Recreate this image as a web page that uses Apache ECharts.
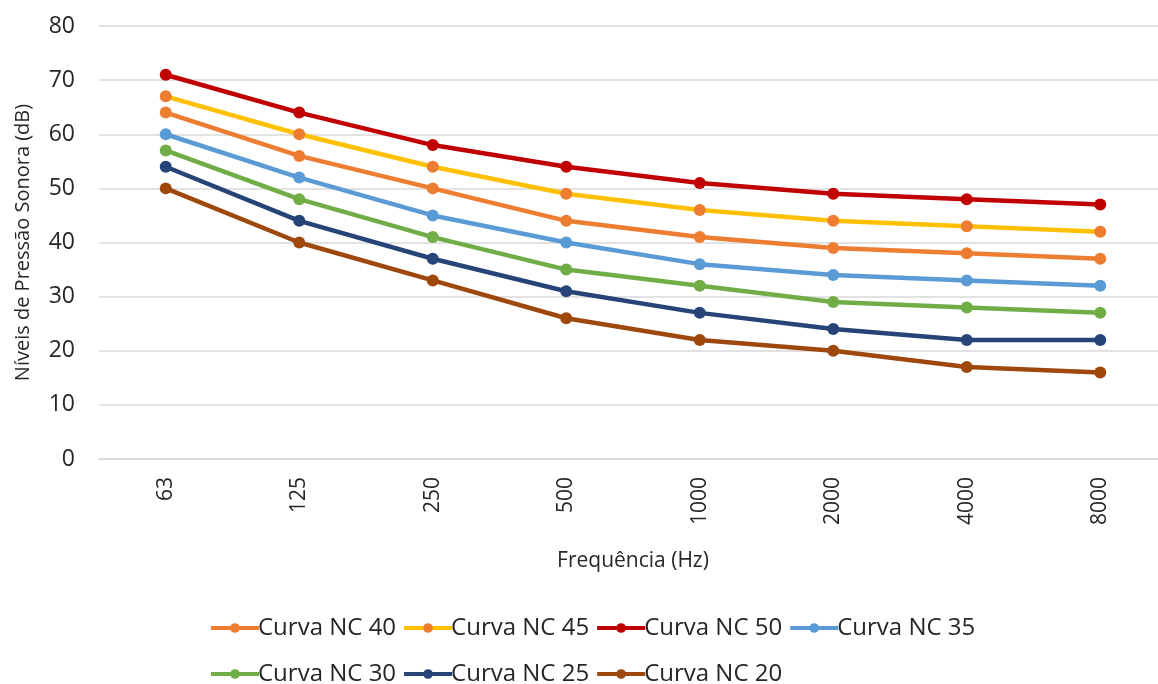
<!DOCTYPE html>
<html>
<head>
<meta charset="utf-8">
<script src="https://cdn.jsdelivr.net/npm/echarts@6/dist/echarts.min.js"></script>
<style>
  html, body { margin: 0; padding: 0; background: #fff; }
  #chart { width: 1158px; height: 684px; }
</style>
</head>
<body>
<div id="chart"></div>
<script>
// frequency bands (Hz)
const freqs = ['63', '125', '250', '500', '1000', '2000', '4000', '8000'];

// NC curves, dB
const nc40 = [64, 56, 50, 44, 41, 39, 38, 37];
const nc45 = [67, 60, 54, 49, 46, 44, 43, 42];
const nc50 = [71, 64, 58, 54, 51, 49, 48, 47];
const nc35 = [60, 52, 45, 40, 36, 34, 33, 32];
const nc30 = [57, 48, 41, 35, 32, 29, 28, 27];
const nc25 = [54, 44, 37, 31, 27, 24, 22, 22];
const nc20 = [50, 40, 33, 26, 22, 20, 17, 16];

const FONT = 'Open Sans';
const txt = '#262626';

function mkSeries(name, data, lineColor, dotColor) {
  return {
    name: name,
    type: 'line',
    data: data,
    symbol: 'circle',
    symbolSize: 12,
    lineStyle: { width: 4.5, color: lineColor },
    itemStyle: { color: dotColor || lineColor },
    emphasis: { disabled: true },
    z: 2
  };
}

const chart = echarts.init(document.getElementById('chart'));

const legendCommon = {
  left: 204,
  orient: 'horizontal',
  itemWidth: 48,
  itemHeight: 12,
  itemGap: 6,
  lineStyle: { width: 4 },
  textStyle: { fontFamily: FONT, fontSize: 24, color: txt, padding: [0, 0, 0, -6] }
};

chart.setOption({
  animation: false,
  grid: { left: 99, top: 26, width: 1068, height: 433, outerBoundsMode: 'none', containLabel: false },
  legend: [
    Object.assign({ top: 611, data: ['Curva NC 40', 'Curva NC 45', 'Curva NC 50', 'Curva NC 35'] }, legendCommon),
    Object.assign({ top: 657, data: ['Curva NC 30', 'Curva NC 25', 'Curva NC 20'] }, legendCommon)
  ],
  xAxis: {
    type: 'category',
    data: freqs,
    boundaryGap: true,
    name: 'Frequência (Hz)',
    nameLocation: 'middle',
    nameGap: 92,
    nameTextStyle: { fontFamily: FONT, fontSize: 21, color: txt },
    axisLine: { show: true, lineStyle: { color: '#d9d9d9', width: 1.5 } },
    axisTick: { show: false },
    axisLabel: { rotate: 90, fontFamily: FONT, fontSize: 21, color: txt, margin: 18 }
  },
  yAxis: {
    type: 'value',
    min: 0,
    max: 80,
    interval: 10,
    name: 'Níveis de Pressão Sonora (dB)',
    nameLocation: 'middle',
    nameGap: 66,
    nameTextStyle: { fontFamily: FONT, fontSize: 20, color: txt },
    axisLine: { show: false },
    axisTick: { show: false },
    axisLabel: { fontFamily: FONT, fontSize: 23, color: txt, margin: 24 },
    splitLine: { lineStyle: { color: '#d9d9d9', width: 1.5 } }
  },
  series: [
    mkSeries('Curva NC 40', nc40, '#ED7D31'),
    mkSeries('Curva NC 45', nc45, '#FFC000', '#ED7D31'),
    mkSeries('Curva NC 50', nc50, '#C00000'),
    mkSeries('Curva NC 35', nc35, '#5B9BD5'),
    mkSeries('Curva NC 30', nc30, '#70AD47'),
    mkSeries('Curva NC 25', nc25, '#264478'),
    mkSeries('Curva NC 20', nc20, '#9E480E')
  ]
});
</script>
</body>
</html>
